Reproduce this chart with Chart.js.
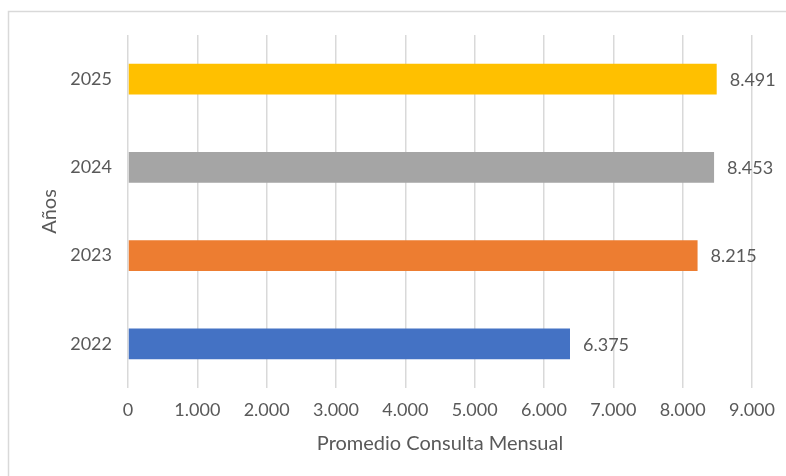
<!DOCTYPE html>
<html>
<head>
<meta charset="utf-8">
<script src="https://cdn.jsdelivr.net/npm/chart.js@4"></script>
<style>
    html, body { margin: 0; padding: 0; background: #fff; }
    #wrap { position: relative; width: 786px; height: 476px; }
</style>
</head>
<body>
<div id="wrap"><canvas id="chart" width="786" height="476"></canvas></div>
<script>
const years = ['2025', '2024', '2023', '2022'];
const promedio = [8491, 8453, 8215, 6375];
const barColors = ['#FFC000', '#A5A5A5', '#ED7D31', '#4472C4'];
const tickValues = [0, 1000, 2000, 3000, 4000, 5000, 6000, 7000, 8000, 9000];

const textColor = '#595959';
const fontFamily = 'Lato, "Open Sans", sans-serif';

function formatNumber(n) {
    return String(n).replace(/\B(?=(\d{3})+(?!\d))/g, '.');
}

// frame around the chart area, like the spreadsheet chart border
const framePlugin = {
    id: 'frame',
    beforeDraw(chart) {
        const ctx = chart.ctx;
        ctx.save();
        ctx.fillStyle = '#fff';
        ctx.fillRect(0, 0, chart.width, chart.height);
        ctx.strokeStyle = '#D9D9D9';
        ctx.lineWidth = 1.5;
        ctx.beginPath();
        ctx.moveTo(8.5, chart.height + 5);
        ctx.lineTo(8.5, 11.5);
        ctx.lineTo(chart.width + 5, 11.5);
        ctx.stroke();
        ctx.restore();
    }
};

// value labels at the end of each bar
const valueLabels = {
    id: 'valueLabels',
    afterDatasetsDraw(chart) {
        const ctx = chart.ctx;
        const meta = chart.getDatasetMeta(0);
        ctx.save();
        ctx.fillStyle = textColor;
        ctx.font = '18px ' + fontFamily;
        ctx.textAlign = 'left';
        ctx.textBaseline = 'middle';
        meta.data.forEach((bar, i) => {
            ctx.fillText(formatNumber(promedio[i]), bar.x + 13, bar.y + 1);
        });
        ctx.restore();
    }
};

new Chart(document.getElementById('chart'), {
    type: 'bar',
    data: {
        labels: years,
        datasets: [{
            data: promedio,
            backgroundColor: barColors,
            borderWidth: 0,
            barPercentage: 0.35,
            categoryPercentage: 1.0
        }]
    },
    options: {
        indexAxis: 'y',
        responsive: false,
        animation: false,
        layout: { padding: { left: 0, top: 35, right: 31, bottom: 0 } },
        plugins: {
            legend: { display: false },
            tooltip: { enabled: false }
        },
        scales: {
            x: {
                min: 0,
                max: 9000,
                afterBuildTicks(scale) {
                    scale.ticks = tickValues.map(v => ({ value: v }));
                },
                afterFit(scale) { scale.height = 88; },
                grid: { color: '#D9D9D9', lineWidth: 1.5, drawTicks: false },
                border: { display: false },
                ticks: {
                    color: textColor,
                    font: { family: fontFamily, size: 18 },
                    padding: 11,
                    callback: v => formatNumber(v)
                },
                title: {
                    display: true,
                    text: 'Promedio Consulta Mensual',
                    color: textColor,
                    font: { family: fontFamily, size: 20 },
                    padding: { top: 4, bottom: 20 }
                }
            },
            y: {
                afterFit(scale) { scale.width = 128; },
                grid: { display: false, drawTicks: false },
                border: { display: false },
                ticks: {
                    color: textColor,
                    font: { family: fontFamily, size: 18 },
                    padding: 16
                },
                title: {
                    display: true,
                    text: 'Años',
                    color: textColor,
                    font: { family: fontFamily, size: 20 },
                    padding: { top: 38 }
                }
            }
        }
    },
    plugins: [framePlugin, valueLabels]
});
</script>
</body>
</html>
